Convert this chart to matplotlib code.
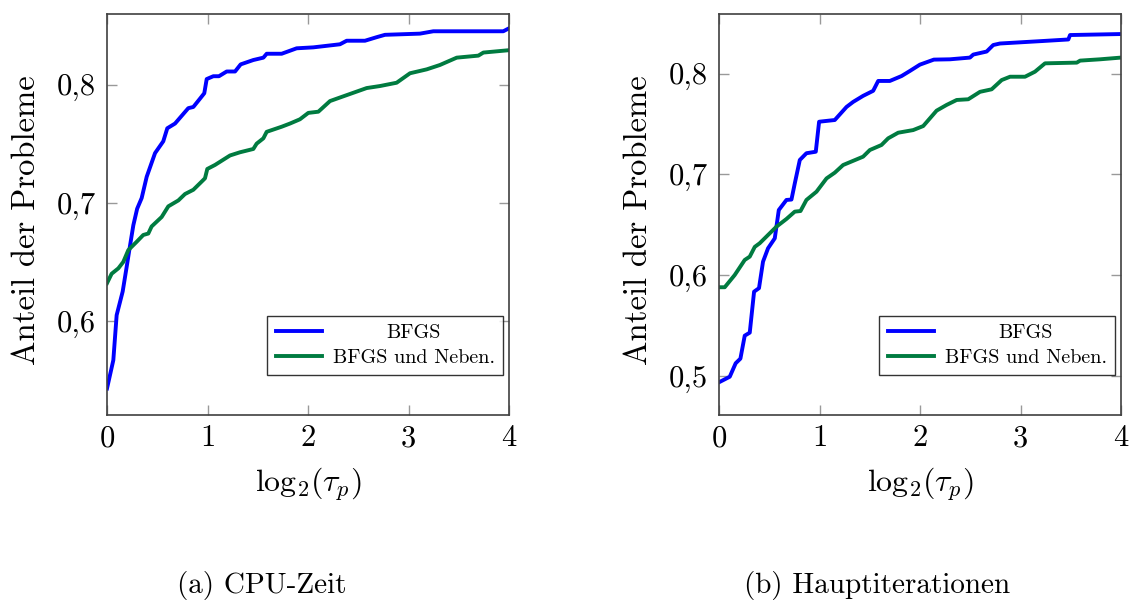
import matplotlib
matplotlib.use('Agg')
import matplotlib.pyplot as plt

plt.rcParams['font.family'] = 'serif'
plt.rcParams['font.serif'] = ['cmr10', 'DejaVu Serif']
plt.rcParams['mathtext.fontset'] = 'cm'
plt.rcParams['axes.unicode_minus'] = False

# (a) CPU-Zeit
cpu_bfgs_x = [0, 0.063, 0.096, 0.156, 0.196, 0.222, 0.262, 0.30, 0.345, 0.395, 0.478, 0.56, 0.60,
              0.677, 0.809, 0.859, 0.925, 0.968, 0.992, 1.058, 1.114, 1.191, 1.274, 1.33, 1.456,
              1.556, 1.589, 1.738, 1.887, 2.053, 2.318, 2.385, 2.567, 2.683, 2.766, 3.114, 3.247,
              3.943, 4.0]
cpu_bfgs_y = [0.543, 0.567, 0.605, 0.625, 0.646, 0.660, 0.681, 0.695, 0.704, 0.722, 0.742, 0.752,
              0.763, 0.767, 0.780, 0.781, 0.788, 0.7926, 0.8046, 0.807, 0.807, 0.811, 0.811, 0.817,
              0.8207, 0.8227, 0.826, 0.826, 0.8306, 0.8314, 0.834, 0.837, 0.837, 0.840, 0.842,
              0.843, 0.845, 0.845, 0.8475]
cpu_neben_x = [0, 0.046, 0.113, 0.162, 0.212, 0.295, 0.361, 0.411, 0.444, 0.544, 0.61, 0.71, 0.776,
               0.859, 0.925, 0.975, 0.998, 1.075, 1.224, 1.323, 1.456, 1.489, 1.556, 1.589, 1.738,
               1.821, 1.92, 2.003, 2.103, 2.219, 2.318, 2.451, 2.584, 2.716, 2.882, 3.015, 3.181,
               3.313, 3.38, 3.48, 3.695, 3.745, 4.0]
cpu_neben_y = [0.632, 0.640, 0.6446, 0.650, 0.660, 0.667, 0.6728, 0.674, 0.680, 0.688, 0.697, 0.702,
               0.7074, 0.711, 0.7165, 0.7207, 0.7286, 0.732, 0.740, 0.7427, 0.7455, 0.750, 0.7545,
               0.760, 0.7643, 0.767, 0.7706, 0.776, 0.777, 0.786, 0.789, 0.793, 0.797, 0.7987,
               0.8015, 0.8095, 0.8128, 0.8165, 0.819, 0.8227, 0.8244, 0.827, 0.829]

# (b) Hauptiterationen
it_bfgs_x = [0, 0.107, 0.166, 0.213, 0.256, 0.306, 0.349, 0.398, 0.438, 0.488, 0.555, 0.595, 0.671,
             0.721, 0.754, 0.804, 0.87, 0.963, 0.996, 1.152, 1.269, 1.335, 1.434, 1.534, 1.584,
             1.70, 1.817, 1.899, 1.999, 2.138, 2.298, 2.497, 2.53, 2.663, 2.729, 2.796, 3.227,
             3.476, 3.493, 4.0]
it_bfgs_y = [0.4935, 0.499, 0.5124, 0.517, 0.5398, 0.5428, 0.5835, 0.587, 0.6133, 0.6266, 0.6365,
             0.6646, 0.6746, 0.675, 0.691, 0.7143, 0.721, 0.7225, 0.7523, 0.754, 0.767, 0.772,
             0.778, 0.783, 0.7928, 0.7928, 0.7977, 0.8027, 0.809, 0.814, 0.8143, 0.816, 0.819,
             0.822, 0.8285, 0.830, 0.8325, 0.834, 0.8384, 0.8394]
it_neben_x = [0, 0.057, 0.156, 0.256, 0.306, 0.356, 0.405, 0.571, 0.671, 0.754, 0.811, 0.87, 0.97,
              1.07, 1.152, 1.235, 1.434, 1.501, 1.617, 1.683, 1.783, 1.932, 2.032, 2.099, 2.165,
              2.265, 2.365, 2.48, 2.597, 2.713, 2.813, 2.896, 3.045, 3.144, 3.244, 3.56, 3.593,
              3.792, 4.0]
it_neben_y = [0.5879, 0.5879, 0.600, 0.615, 0.6183, 0.628, 0.6316, 0.648, 0.6557, 0.663, 0.6636,
              0.6746, 0.6828, 0.696, 0.7017, 0.7093, 0.7176, 0.7242, 0.7292, 0.7358, 0.7414, 0.744,
              0.748, 0.7557, 0.7633, 0.769, 0.7739, 0.7746, 0.782, 0.7845, 0.7937, 0.797, 0.797,
              0.802, 0.8103, 0.811, 0.813, 0.8143, 0.816]

labels = ['BFGS', 'BFGS und Neben.']
colors = ['#0000ff', '#007b40']
xticks = [0, 1, 2, 3, 4]
cpu_yticks = [0.6, 0.7, 0.8]
it_yticks = [0.5, 0.6, 0.7, 0.8]
captions = ['(a) CPU-Zeit', '(b) Hauptiterationen']

fig = plt.figure(figsize=(11.31, 6.01), dpi=100)
ax1 = fig.add_axes([107/1131, 1-415/601, 402/1131, 401/601])
ax2 = fig.add_axes([719/1131, 1-415/601, 402/1131, 401/601])

panels = [
    (ax1, cpu_bfgs_x, cpu_bfgs_y, cpu_neben_x, cpu_neben_y, cpu_yticks, (0.5206, 0.8596)),
    (ax2, it_bfgs_x, it_bfgs_y, it_neben_x, it_neben_y, it_yticks, (0.461, 0.8593)),
]

legends = []
for ax, bx, by, nx, ny, yt, ylim in panels:
    ax.plot(bx, by, color=colors[0], lw=2.8, label=labels[0])
    ax.plot(nx, ny, color=colors[1], lw=2.8, label=labels[1])
    ax.set_xlim(0, 4)
    ax.set_ylim(*ylim)
    ax.set_xticks(xticks)
    ax.set_xticklabels([str(t) for t in xticks])
    ax.set_yticks(yt)
    ax.set_yticklabels([('%.1f' % t).replace('.', ',') for t in yt])
    ax.tick_params(direction='in', length=7, width=1, color='#999999',
                   top=True, right=True, labelsize=22)
    ax.tick_params(axis='x', pad=7)
    ax.tick_params(axis='y', pad=8)
    for s in ax.spines.values():
        s.set_color('#404040')
        s.set_linewidth(1.2)
    ax.set_xlabel(r'$\mathrm{log}_2(\tau_p)$', fontsize=23, labelpad=10)
    ax.set_ylabel('Anteil der Probleme', fontsize=23.5)
    ax.yaxis.set_label_coords(-0.165, 0.485)
    leg = ax.legend(loc='lower right', bbox_to_anchor=(0.985, 0.1), borderaxespad=0,
                    fontsize=14.5, frameon=True, fancybox=False, edgecolor='black',
                    handlelength=2.3, handletextpad=0.55, borderpad=0.4, labelspacing=0.35)
    leg.get_frame().set_linewidth(1.0)
    legends.append(leg)

fig.text(262/1131, 1-586/601, captions[0], ha='center', va='center', fontsize=21)
fig.text(877/1131, 1-586/601, captions[1], ha='center', va='center', fontsize=21)

# center the legend entries like pgfplots does
fig.canvas.draw()
r = fig.canvas.get_renderer()
for leg in legends:
    texts = leg.get_texts()
    widths = [t.get_window_extent(r).width for t in texts]
    wmax = max(widths)
    for t, w in zip(texts, widths):
        t.set_x((wmax - w) / 2)

plt.savefig('out.png', dpi=100)
